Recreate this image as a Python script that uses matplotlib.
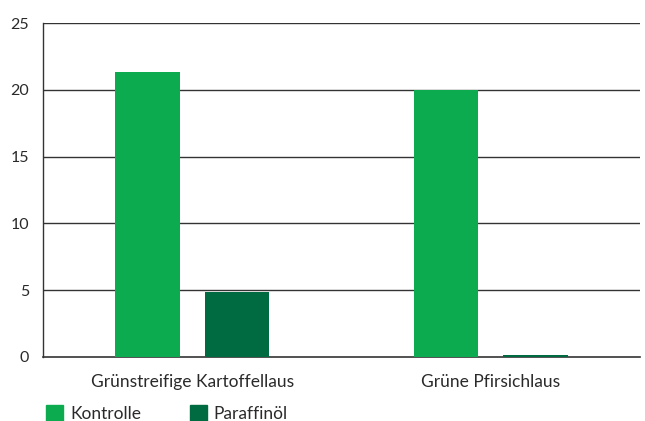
import numpy as np
import matplotlib.pyplot as plt
from matplotlib.patches import Patch

plt.rcParams['font.family'] = ['Lato', 'DejaVu Sans']

categories = ['Grünstreifige Kartoffellaus', 'Grüne Pfirsichlaus']
kontrolle = [21.3, 20.0]
paraffinoel = [4.85, 0.12]
series_names = ['Kontrolle', 'Paraffinöl']
colors = ['#0dab50', '#006a40']
yticks = [0, 5, 10, 15, 20, 25]

fig = plt.figure(figsize=(6.45, 4.21), dpi=100)
ax = fig.add_axes([43/645, 1-357/421, 597/645, 334/421])

x = np.arange(len(categories))
w = 0.215
ax.bar(x - 0.15, kontrolle, w, color=colors[0], zorder=3)
ax.bar(x + 0.15, paraffinoel, w, color=colors[1], zorder=3)

ax.set_xlim(-0.5, 1.5)
ax.set_ylim(0, 25)
ax.set_yticks(yticks)
ax.set_xticks(x)
ax.set_xticklabels(categories, fontsize=12.5, color='#2a2a2a')
ax.tick_params(axis='y', length=0, pad=10, labelsize=11.5, labelcolor='#2a2a2a')
ax.tick_params(axis='x', length=0, pad=12)
for yv in yticks[1:]:
    ax.axhline(yv, color='#333333', lw=1, zorder=1)
for s in ['top', 'right']:
    ax.spines[s].set_visible(False)
ax.spines['left'].set_color('#333333')
ax.spines['bottom'].set_color('#333333')
ax.spines['left'].set_linewidth(1)
ax.spines['bottom'].set_linewidth(1.2)

handles = [Patch(color=c) for c in colors]
leg = fig.legend(handles, series_names, loc='lower left', bbox_to_anchor=(30/645, -0.04),
                 ncol=2, frameon=False, fontsize=12.5, handlelength=1.0, handleheight=1.0,
                 columnspacing=2.8, handletextpad=0.4)
for t in leg.get_texts():
    t.set_color('#2a2a2a')

fig.savefig('out.png', dpi=100)
